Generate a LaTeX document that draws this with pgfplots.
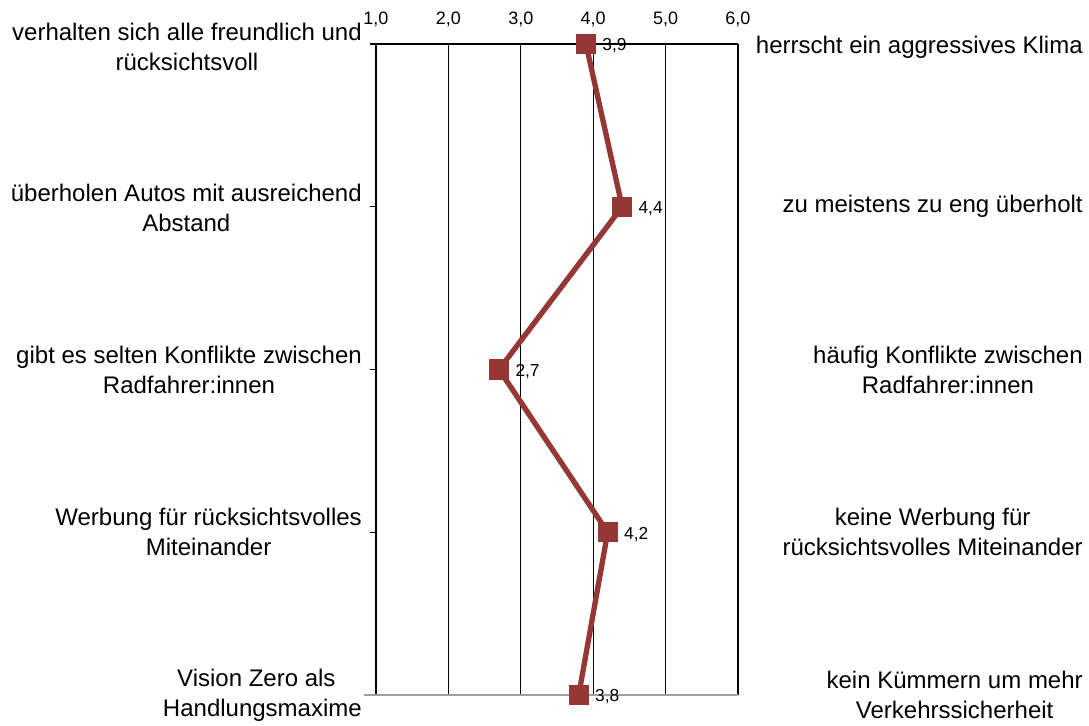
\documentclass[border=0pt]{standalone}
\usepackage{pgfplots}
\pgfplotsset{compat=1.18}
\usepackage{fontspec}
\setmainfont{Liberation Sans}
\definecolor{ser}{RGB}{149,55,53}
\definecolor{botline}{RGB}{160,160,160}
\begin{document}
\begin{tikzpicture}
\useasboundingbox (-282pt,-22.5pt) rectangle (534.75pt,521.25pt);
\begin{axis}[
  scale only axis,
  width=271.5pt, height=488.25pt,
  at={(0,0)}, anchor=south west,
  xmin=1, xmax=6, ymin=0, ymax=4,
  y dir=reverse,
  clip=false,
  axis x line=top,
  axis y line=left,
  x axis line style={-, black, line width=1.3pt},
  y axis line style={-, black, line width=1.5pt},
  xtick={1,2,3,4,5,6},
  ytick={0,1,2,3,4},
  yticklabels={},
  x tick style={draw=none},
  y tick style={black, line width=0.8pt},
  tick align=outside,
  major tick length=4.5pt,
  xmajorgrids,
  major grid style={black, line width=0.8pt},
  xticklabel style={font=\fontsize{13.5}{15}\selectfont, yshift=5pt},
  /pgf/number format/.cd, fixed, fixed zerofill, precision=1, use comma, assume math mode=true,
]
\draw[botline, line width=1.2pt] (axis cs:0.84,4) -- (axis cs:6,4);
\addplot[color=ser, line width=4pt, mark=square*, mark size=7.2pt,
  mark options={solid, fill=ser, draw=ser, line width=0pt},
  point meta=x,
  nodes near coords,
  every node near coord/.append style={text=black, anchor=west, xshift=9pt, yshift=-1.5pt,
     font=\fontsize{13}{15}\selectfont}]
  coordinates {(3.9,0) (4.4,1) (2.7,2) (4.2,3) (3.8,4)};
\tikzset{lab/.style={align=center, font=\fontsize{18}{22.5}\selectfont, inner sep=0pt}}
\node[lab, anchor=east] at (axis cs:0.807,0.02) {verhalten sich alle freundlich und\\rücksichtsvoll};
\node[lab, anchor=east] at (axis cs:0.807,1.01) {überholen Autos mit ausreichend\\Abstand};
\node[lab, anchor=east] at (axis cs:0.807,2.0) {gibt es selten Konflikte zwischen\\Radfahrer:innen};
\node[lab, anchor=east] at (axis cs:0.807,3.0) {Werbung für rücksichtsvolles\\Miteinander};
\node[lab, anchor=east] at (axis cs:0.807,4.0) {Vision Zero als\phantom{s}\\Handlungsmaxime};
\node[lab, anchor=east] at (axis cs:10.765,0.02) {herrscht ein aggressives Klima};
\node[lab, anchor=east] at (axis cs:10.765,1.0) {zu meistens zu eng überholt};
\node[lab, anchor=east] at (axis cs:10.765,2.0) {häufig Konflikte zwischen\\Radfahrer:innen};
\node[lab, anchor=east] at (axis cs:10.765,3.0) {keine Werbung für\\rücksichtsvolles Miteinander};
\node[lab, anchor=east] at (axis cs:10.765,4.0) {kein Kümmern um mehr\\Verkehrssicherheit};
\end{axis}
\end{tikzpicture}
\end{document}
